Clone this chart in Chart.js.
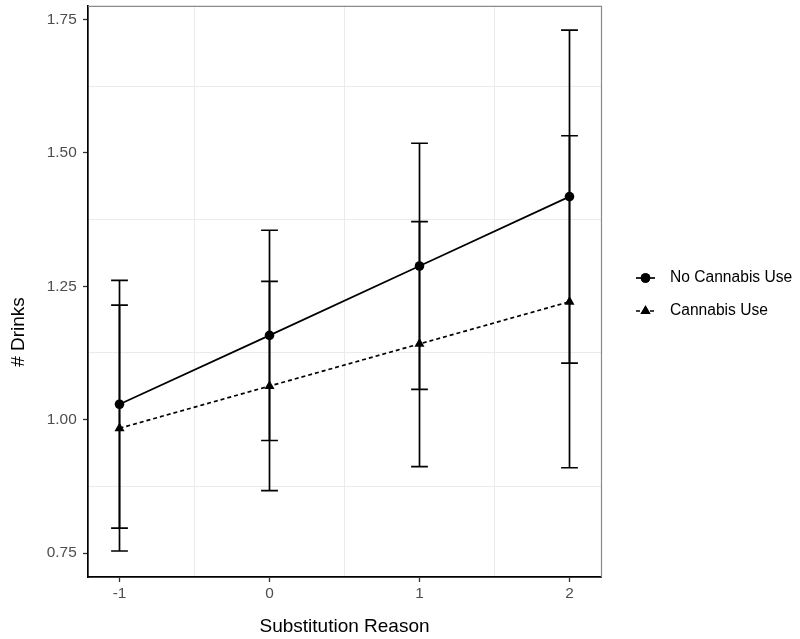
<!DOCTYPE html>
<html><head><meta charset="utf-8">
<script src="https://cdn.jsdelivr.net/npm/chart.js@4/dist/chart.umd.min.js"></script>
<style>html,body{margin:0;padding:0;background:#fff}#wrap{width:800px;height:639px;position:relative}</style>
</head><body><div id="wrap"><canvas id="c" width="800" height="639"></canvas></div>
<script>
const xValues = [-1, 0, 1, 2];
const noCannabisMean = [1.029, 1.158, 1.288, 1.418];
const noCannabisLower = [0.797, 0.961, 1.057, 1.106];
const noCannabisUpper = [1.261, 1.355, 1.518, 1.730];
const cannabisMean = [0.984, 1.063, 1.142, 1.221];
const cannabisLower = [0.754, 0.867, 0.912, 0.910];
const cannabisUpper = [1.2145, 1.259, 1.371, 1.532];
const xTickValues = [-1, -0.5, 0, 0.5, 1, 1.5, 2];
const yTickValues = [0.75, 0.875, 1.0, 1.125, 1.25, 1.375, 1.5, 1.625, 1.75];
const seriesNames = ['No Cannabis Use', 'Cannabis Use'];
const xTitle = 'Substitution Reason';
const yTitle = '# Drinks';

const FONT = "'Liberation Sans', Arial, sans-serif";
const isMajorX = v => Math.abs(v - Math.round(v)) < 1e-9;
const isMajorY = v => Math.abs(v * 4 - Math.round(v * 4)) < 1e-9;

const toPts = arr => xValues.map((x, i) => ({x: x, y: arr[i]}));

const errorBarPlugin = {
  id: 'errorBars',
  beforeDatasetsDraw(chart) {
    const {ctx, scales: {x, y}} = chart;
    ctx.save();
    ctx.strokeStyle = '#000';
    ctx.lineWidth = 1.7;
    ctx.setLineDash([]);
    chart.data.datasets.forEach(ds => {
      xValues.forEach((xv, i) => {
        const px = x.getPixelForValue(xv);
        const lo = y.getPixelForValue(ds.errLow[i]);
        const hi = y.getPixelForValue(ds.errHigh[i]);
        const hw = x.getPixelForValue(xv + 0.056) - px;
        ctx.beginPath();
        ctx.moveTo(px, lo); ctx.lineTo(px, hi);
        ctx.moveTo(px - hw, lo); ctx.lineTo(px + hw, lo);
        ctx.moveTo(px - hw, hi); ctx.lineTo(px + hw, hi);
        ctx.stroke();
      });
    });
    ctx.restore();
  }
};

const framePlugin = {
  id: 'frame',
  beforeDatasetsDraw(chart) {
    const {ctx, chartArea: a} = chart;
    ctx.save();
    ctx.strokeStyle = '#8a8a8a';
    ctx.lineWidth = 1.2;
    ctx.beginPath();
    ctx.moveTo(a.left, a.top + 0.5); ctx.lineTo(a.right + 0.5, a.top + 0.5); ctx.lineTo(a.right + 0.5, a.bottom);
    ctx.stroke();
    ctx.restore();
  },
  afterDraw(chart) {
    const {ctx} = chart;
    ctx.save();
    ctx.translate(19, 332);
    ctx.rotate(-Math.PI / 2);
    ctx.fillStyle = '#000';
    ctx.font = "19px " + FONT;
    ctx.textAlign = 'center';
    ctx.textBaseline = 'middle';
    ctx.fillText(yTitle, 0, 0);
    ctx.restore();

    const rows = [278, 311];
    chart.data.datasets.forEach((ds, i) => {
      const yy = rows[i];
      ctx.save();
      ctx.strokeStyle = ds.borderColor;
      ctx.lineWidth = ds.borderWidth;
      ctx.setLineDash(ds.borderDash || []);
      ctx.beginPath();
      ctx.moveTo(636, yy); ctx.lineTo(655, yy);
      ctx.stroke();
      ctx.setLineDash([]);
      ctx.fillStyle = '#000';
      Chart.helpers.drawPoint(ctx, {pointStyle: ds.pointStyle, radius: ds.pointRadius, borderWidth: 0, rotation: 0}, 645.5, yy);
      ctx.fill();
      ctx.font = "15.6px " + FONT;
      ctx.textAlign = 'left';
      ctx.textBaseline = 'middle';
      ctx.fillText(ds.label, 670, yy);
      ctx.restore();
    });
  }
};

new Chart(document.getElementById('c'), {
  type: 'line',
  data: {
    datasets: [
      {
        label: seriesNames[0], data: toPts(noCannabisMean),
        errLow: noCannabisLower, errHigh: noCannabisUpper,
        borderColor: '#000', backgroundColor: '#000', borderWidth: 1.7,
        pointStyle: 'circle', pointRadius: 4.8, pointBackgroundColor: '#000', pointBorderWidth: 0,
        fill: false, tension: 0
      },
      {
        label: seriesNames[1], data: toPts(cannabisMean),
        errLow: cannabisLower, errHigh: cannabisUpper,
        borderColor: '#000', backgroundColor: '#000', borderWidth: 1.7, borderDash: [4, 3],
        pointStyle: 'triangle', pointRadius: 5.8, pointBackgroundColor: '#000', pointBorderWidth: 0,
        fill: false, tension: 0
      }
    ]
  },
  options: {
    responsive: false,
    animation: false,
    devicePixelRatio: 1,
    layout: {padding: {top: 2, right: 199, bottom: 0, left: 0}},
    plugins: {legend: {display: false}, tooltip: {enabled: false}},
    scales: {
      x: {
        type: 'linear', min: -1.21, max: 2.21,
        afterBuildTicks: s => { s.ticks = xTickValues.map(v => ({value: v})); },
        afterFit: s => { s.height = 62; s.paddingLeft = 0; s.paddingRight = 0; },
        grid: {
          color: c => (c.tick && !isMajorX(c.tick.value)) ? '#ebebeb' : 'rgba(0,0,0,0)',
          tickColor: c => (c.tick && isMajorX(c.tick.value)) ? '#333' : 'rgba(0,0,0,0)',
          tickLength: 5, lineWidth: 1, tickWidth: 1.3
        },
        border: {display: true, color: '#000', width: 1.7},
        ticks: {
          autoSkip: false, maxRotation: 0, padding: 3,
          color: '#4d4d4d', font: {family: FONT, size: 15.4},
          callback: v => isMajorX(v) ? String(v) : ''
        },
        title: {display: true, text: xTitle, color: '#000', font: {family: FONT, size: 19}, padding: {top: 0, bottom: 0.6}}
      },
      y: {
        type: 'linear', min: 0.7053, max: 1.7755,
        afterBuildTicks: s => { s.ticks = yTickValues.map(v => ({value: v})); },
        afterFit: s => { s.width = 88; s.paddingTop = 0; s.paddingBottom = 0; },
        grid: {
          color: c => (c.tick && !isMajorY(c.tick.value)) ? '#ebebeb' : 'rgba(0,0,0,0)',
          tickColor: c => (c.tick && isMajorY(c.tick.value)) ? '#333' : 'rgba(0,0,0,0)',
          tickLength: 5, lineWidth: 1, tickWidth: 1.3
        },
        border: {display: true, color: '#000', width: 1.7},
        ticks: {
          autoSkip: false, padding: 6.3,
          color: '#4d4d4d', font: {family: FONT, size: 15.4},
          callback: v => isMajorY(v) ? v.toFixed(2) : ''
        },
        title: {display: false}
      }
    }
  },
  plugins: [errorBarPlugin, framePlugin]
});
</script>
</body></html>
